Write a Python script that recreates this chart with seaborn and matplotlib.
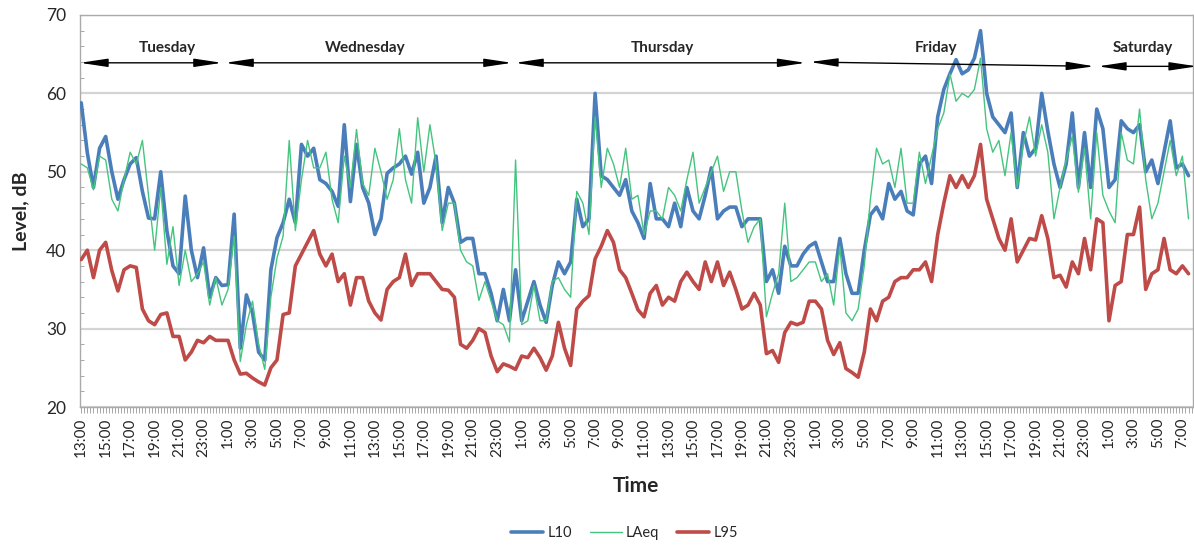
import matplotlib
matplotlib.use("Agg")
import matplotlib.pyplot as plt
from matplotlib.ticker import MultipleLocator, FixedLocator
from matplotlib.lines import Line2D
import numpy as np
import pandas as pd
import seaborn as sns

# half-hourly readings starting Tuesday 13:00
step_h = 0.5
l10 = [58.8, 52.4, 48, 53, 54.5, 50, 46.5, 49, 51, 51.8, 47.5, 44.1, 44, 50, 42.5, 38, 37, 46.9, 40, 36.5,
       40.3, 34, 36.5, 35.5, 35.6, 44.6, 27.5, 34.3, 32, 27, 26, 37.5, 41.6, 43.5, 46.5, 43.5, 53.5, 52, 53, 49,
       48.5, 47.5, 45.6, 56, 46.2, 53.5, 48, 46, 42, 44, 49.8, 50.5, 51, 52, 49.7, 52.5, 46, 48, 52, 43.5,
       48, 46, 41, 41.5, 41.5, 37, 37, 34.5, 31, 35, 31, 37.5, 31, 33.5, 36, 33, 30.8, 35.5, 38.5, 37,
       38.5, 46.5, 43, 44, 60, 49.5, 49, 48, 47, 49, 45, 43.5, 41.5, 48.5, 44, 44, 43, 46, 43, 48,
       45, 44, 47, 50.5, 44, 45, 45.5, 45.5, 43, 44, 44, 44, 36, 37.5, 34.5, 40.5, 38, 38, 39.5, 40.5,
       41, 38.5, 36, 36, 41.5, 37, 34.5, 34.5, 40, 44.5, 45.5, 44, 48.5, 46.5, 47.5, 45, 44.5, 51, 52, 48.5,
       57, 60.5, 62.5, 64.3, 62.5, 63, 64.5, 68, 60, 57, 56, 55, 57.5, 48, 55, 52, 53, 60, 55.2, 51,
       48, 51, 57.5, 48, 55, 48, 58, 55.5, 48, 49, 56.5, 55.5, 55, 56, 50, 51.5, 48.5, 52.5, 56.5, 50.5,
       51, 49.5]
laeq = [51, 50.5, 47.7, 52, 51.5, 46.5, 45, 49, 52.5, 51, 54, 47, 40, 48, 38.2, 43, 35.5, 40, 36, 37,
        38.5, 33, 36.5, 33, 35, 41.8, 25.8, 30.5, 33.5, 28, 24.8, 34, 39, 41.8, 54, 42.5, 49, 54, 50.5, 50.5,
        52.5, 46.5, 43.5, 52, 48, 55.4, 48.5, 47, 53, 50, 46.5, 49, 55.5, 49, 46, 56.9, 50, 56, 51, 42.5,
        46, 46, 40, 38.5, 38, 33.6, 36, 33.5, 31, 30.5, 28.3, 51.5, 30.5, 31, 35.5, 31, 31, 36, 36.5, 35,
        34, 47.5, 46, 42, 57, 48, 53, 51, 48, 53, 46.5, 47, 42, 45, 45, 44, 48, 47, 45, 49,
        52.5, 46, 48, 50, 52, 47.5, 50, 50, 45, 41, 43, 44, 31.5, 34.5, 37, 46, 36, 36.5, 37.5, 38.5,
        38.5, 36, 37, 33, 40.5, 32, 31, 32.5, 38, 46.5, 53, 51, 51.5, 48, 53, 46, 46, 52.5, 48.5, 52,
        55.5, 57.5, 62.5, 59, 60, 59.5, 60.5, 64.5, 55.5, 52.5, 54, 49.5, 55, 48, 53.5, 57, 52, 56, 52.5, 44,
        48, 51.5, 54.5, 47.4, 53, 44, 55, 47, 45, 43.5, 55, 51.5, 51, 58, 49, 44, 46, 50, 54, 49.5,
        52, 44]
l95 = [38.8, 40, 36.5, 40, 41, 37.4, 34.8, 37.5, 38, 37.8, 32.5, 31, 30.5, 31.8, 32, 29, 29, 26, 27, 28.5,
       28.2, 29, 28.5, 28.5, 28.5, 26, 24.2, 24.3, 23.7, 23.2, 22.8, 25, 26, 31.8, 32, 38, 39.5, 41, 42.5, 39.5,
       38, 39.5, 36, 37, 33, 36.5, 36.5, 33.5, 32, 31.1, 35, 36, 36.5, 39.5, 35.5, 37, 37, 37, 36, 35,
       34.9, 34, 28, 27.5, 28.5, 30, 29.5, 26.5, 24.5, 25.5, 25.2, 24.8, 26.5, 26.3, 27.5, 26.3, 24.7, 26.5, 30.8, 27.5,
       25.3, 32.5, 33.5, 34.2, 38.9, 40.5, 42.5, 41, 37.5, 36.5, 34.5, 32.4, 31.5, 34.5, 35.5, 33, 34, 33.5, 36, 37.2,
       36, 35, 38.5, 36, 38.5, 35.5, 37.2, 35, 32.5, 33, 34.5, 33, 26.8, 27.2, 25.7, 29.5, 30.8, 30.5, 30.8, 33.5,
       33.5, 32.5, 28.5, 26.7, 28.2, 24.9, 24.4, 23.8, 27, 32.5, 31, 33.5, 34, 36, 36.5, 36.5, 37.5, 37.5, 38.5, 36,
       42, 46, 49.5, 48, 49.5, 48, 49.5, 53.5, 46.5, 44, 41.5, 40, 44, 38.5, 40, 41.5, 41.3, 44.4, 41.5, 36.5,
       36.8, 35.3, 38.5, 37, 41.5, 37.5, 44, 43.5, 31, 35.5, 36, 42, 42, 45.5, 35, 37, 37.5, 41.5, 37.5, 37,
       38, 37]

# 2-hourly tick labels starting 13:00
tick_hours = [13, 15, 17, 19, 21, 23, 1, 3, 5, 7, 9, 11] * 4
tick_labels = [f"{h}:00" for h in tick_hours[:46]]

days = ["Tuesday", "Wednesday", "Thursday", "Friday", "Saturday"]
day_label_x = [7.0, 23.2, 47.5, 69.9, 86.8]
day_spans = [(-0.1, 11.5), (11.76, 35.2), (35.46, 59.2), (59.56, 82.8), (83.1, 91.2)]
day_y = [(63.9, 63.9), (63.9, 63.9), (63.9, 63.9), (64.0, 63.45), (63.45, 63.45)]

t = np.arange(len(l10)) * step_h
df = pd.DataFrame({"t": t, "L10": l10, "LAeq": laeq, "L95": l95})

sns.set_style("white")
plt.rcParams["font.family"] = ["Lato", "DejaVu Sans"]

fig = plt.figure(figsize=(11.94, 5.45), dpi=100)
ax = fig.add_axes([0.067, 0.2532, 0.932, 0.7193])

c_l10, c_laeq, c_l95 = "#4a7ebb", "#45c47f", "#be4b48"
line_kw = dict(solid_joinstyle="round", solid_capstyle="round")
sns.lineplot(data=df, x="t", y="L10", ax=ax, color=c_l10, linewidth=2.6, zorder=3, **line_kw)
sns.lineplot(data=df, x="t", y="LAeq", ax=ax, color=c_laeq, linewidth=1.0, zorder=4, **line_kw)
sns.lineplot(data=df, x="t", y="L95", ax=ax, color=c_l95, linewidth=2.6, zorder=5, **line_kw)

ax.set_xlim(-0.1, 90.85)
ax.set_ylim(20, 70)
ax.yaxis.set_major_locator(MultipleLocator(10))
ax.yaxis.set_minor_locator(MultipleLocator(2))
ax.grid(axis="y", which="major", color="#d4d4d4", linewidth=1.6, zorder=0)

ax.xaxis.set_major_locator(FixedLocator(np.arange(46) * 2.0))
ax.set_xticklabels(tick_labels, rotation=90, fontsize=11)
ax.xaxis.set_minor_locator(MultipleLocator(0.25))
ax.tick_params(axis="x", which="both", direction="out", length=4, width=0.6, color="#999999", bottom=True)
ax.tick_params(axis="y", which="minor", direction="in", length=3, width=0.6, color="#999999", left=True)
ax.tick_params(axis="y", which="major", length=0, labelsize=12.5, pad=10)

for s in ax.spines.values():
    s.set_color("#aaaaaa")
    s.set_linewidth(1.0)

ax.set_ylabel("Level, dB", fontsize=14, fontweight="bold", labelpad=12)
ax.set_xlabel("Time", fontsize=15, fontweight="bold", labelpad=14)

for name, lx, (x0, x1), (y0, y1) in zip(days, day_label_x, day_spans, day_y):
    ax.annotate("", xy=(x1, y1), xytext=(x0, y0), annotation_clip=False,
                arrowprops=dict(arrowstyle="<|-|>,head_length=1.2,head_width=0.18",
                                color="black", lw=1.0, mutation_scale=14,
                                shrinkA=0, shrinkB=0))
    ax.text(lx, 65.8, name, ha="center", va="center", fontsize=11, fontweight="bold", zorder=6)

handles = [Line2D([], [], color=c_l10, lw=2.6), Line2D([], [], color=c_laeq, lw=1.0),
           Line2D([], [], color=c_l95, lw=2.6)]
fig.legend(handles, ["L10", "LAeq", "L95"], loc="center", bbox_to_anchor=(0.523, 0.022), ncol=3,
           frameon=False, fontsize=10.5, handlelength=2.2, handletextpad=0.3, columnspacing=1.2)

fig.savefig("out.png", dpi=100)
